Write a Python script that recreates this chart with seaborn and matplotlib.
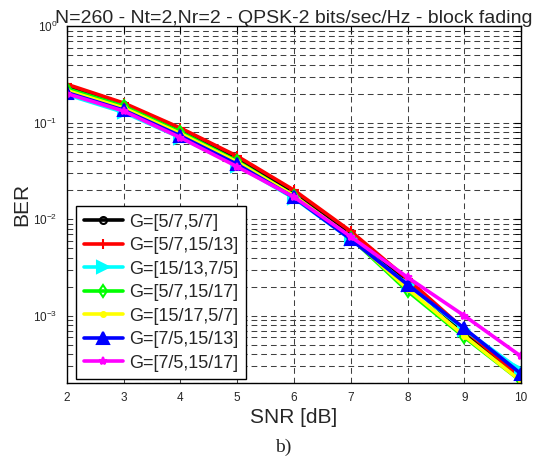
import matplotlib
matplotlib.use("Agg")
import matplotlib.pyplot as plt
import seaborn as sns
import numpy as np
import pandas as pd
from matplotlib.ticker import LogLocator, NullFormatter, FixedLocator

# ---- data ----
snr = [2, 3, 4, 5, 6, 7, 8, 9, 10]
labels = ["G=[5/7,5/7]", "G=[5/7,15/13]", "G=[15/13,7/5]", "G=[5/7,15/17]",
          "G=[15/17,5/7]", "G=[7/5,15/13]", "G=[7/5,15/17]"]
ber_black = [0.235, 0.152, 0.082, 0.042, 0.0188, 0.0070, 0.0022, 0.00068, 0.00021]
ber_red = [0.250, 0.160, 0.088, 0.045, 0.0200, 0.0075, 0.0024, 0.00072, 0.00023]
ber_cyan = [0.195, 0.128, 0.070, 0.036, 0.0165, 0.0062, 0.0021, 0.00072, 0.00027]
ber_green = [0.225, 0.148, 0.080, 0.040, 0.0175, 0.0064, 0.0018, 0.00060, 0.00021]
ber_yellow = [0.215, 0.142, 0.077, 0.039, 0.0175, 0.0065, 0.0019, 0.00062, 0.00021]
ber_blue = [0.205, 0.135, 0.073, 0.037, 0.0168, 0.0062, 0.0021, 0.00074, 0.00025]
ber_magenta = [0.200, 0.132, 0.070, 0.035, 0.0170, 0.0066, 0.0025, 0.00100, 0.00038]
x_ticks = [2, 3, 4, 5, 6, 7, 8, 9, 10]

series = [ber_black, ber_red, ber_cyan, ber_green, ber_yellow, ber_blue, ber_magenta]
styles = [
    dict(color="#000000", marker="o", ms=5, mfc="none"),
    dict(color="#ff0000", marker="+", ms=7, mfc="none"),
    dict(color="#00ffff", marker=">", ms=9, mfc="#00ffff"),
    dict(color="#00ff00", marker="d", ms=6, mfc="none"),
    dict(color="#ffff00", marker=".", ms=7, mfc="#ffff00"),
    dict(color="#0000ff", marker="^", ms=9, mfc="#0000ff"),
    dict(color="#ff00ff", marker="*", ms=6, mfc="#ff00ff"),
]

sns.set_style("white")
plt.rcParams["font.family"] = ["Liberation Sans", "DejaVu Sans"]
plt.rcParams["mathtext.default"] = "regular"

fig = plt.figure(figsize=(5.44, 4.59), dpi=100)
ax = fig.add_axes([0.123, 0.165, 0.835, 0.778])

for vals, lab, st in zip(series, labels, styles):
    df = pd.DataFrame({"SNR": snr, "BER": vals})
    sns.lineplot(data=df, x="SNR", y="BER", ax=ax, color=st["color"],
                 marker=st["marker"], markersize=st["ms"],
                 markerfacecolor=st["mfc"], markeredgecolor=st["color"],
                 markeredgewidth=1.5, linewidth=2.6, label=lab)

ax.set_yscale("log")
ax.set_xlim(2, 10)
ax.set_ylim(2e-4, 1)
ax.xaxis.set_major_locator(FixedLocator(x_ticks))
ax.yaxis.set_major_locator(LogLocator(base=10, numticks=10))
ax.yaxis.set_minor_locator(LogLocator(base=10, subs=np.arange(2, 10), numticks=20))
ax.yaxis.set_minor_formatter(NullFormatter())

dash = (0, (5.5, 3.8))
ax.set_axisbelow(True)
ax.grid(True, which="major", axis="both", linestyle=dash, color="0.25", linewidth=0.75)
ax.grid(True, which="minor", axis="y", linestyle=dash, color="0.25", linewidth=0.75)

for sp in ax.spines.values():
    sp.set_visible(True)
    sp.set_color("black")
    sp.set_linewidth(1.0)

ax.tick_params(axis="both", which="both", direction="in", top=True, right=True,
               labelsize=8.5, color="black")
ax.tick_params(axis="both", which="major", length=5)
ax.tick_params(axis="y", which="minor", length=4)
ax.tick_params(axis="x", which="major", pad=6)
ax.tick_params(axis="y", which="major", pad=7)

ax.set_title("N=260 - Nt=2,Nr=2 - QPSK-2 bits/sec/Hz - block fading",
             fontsize=14, pad=2)
ax.set_xlabel("SNR [dB]", fontsize=15)
ax.set_ylabel("BER", fontsize=15)
ax.xaxis.set_label_coords(0.5, -0.07)
ax.yaxis.label.set_va("center")
ax.yaxis.set_label_coords(-0.099, 0.5)

leg = ax.legend(loc="lower left", bbox_to_anchor=(0.02, 0.011), borderaxespad=0,
                fontsize=13, handlelength=2.2, handletextpad=0.3,
                labelspacing=0.36, borderpad=0.42, fancybox=False, framealpha=1)
leg.get_frame().set_edgecolor("black")
leg.get_frame().set_linewidth(1.0)

fig.text(283 / 544, 1 - 447 / 459, "b)", family=["Liberation Serif"], fontsize=14,
         ha="center", va="center")

fig.savefig("out.png", dpi=100)
